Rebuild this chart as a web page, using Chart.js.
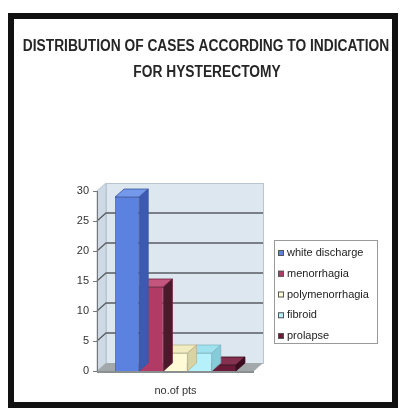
<!DOCTYPE html>
<html>
<head>
<meta charset="utf-8">
<script src="https://cdn.jsdelivr.net/npm/chart.js@4"></script>
<style>
  html, body { margin: 0; padding: 0; background: #fff; }
  #wrap { position: absolute; left: 0; top: 0; width: 400px; height: 409px; }
</style>
</head>
<body>
<div id="wrap"><canvas id="c" width="400" height="409"></canvas></div>
<script>
// Chart content
const titleLines = ['DISTRIBUTION OF CASES ACCORDING TO INDICATION', 'FOR HYSTERECTOMY'];
const categories = ['no.of pts'];
const seriesNames = ['white discharge', 'menorrhagia', 'polymenorrhagia', 'fibroid', 'prolapse'];
const seriesValues = [29, 14, 3, 3, 1];
const yTicks = [0, 5, 10, 15, 20, 25, 30];

// Shading for the three visible faces of each 3D bar
const frontColors = ['#5a82de', '#b03c66', '#fffbd6', '#b6f1fb', '#6a1a38'];
const topColors   = ['#7499ea', '#c4557c', '#f1edc0', '#9fe2ee', '#84304f'];
const sideColors  = ['#3c5bb0', '#4a1a2a', '#d8d3a4', '#86cbd8', '#3e0c20'];
const edgeColors  = ['#3a55a0', '#6e1f3c', '#b8b48a', '#7fb8c4', '#3a0a1c'];

const DX = 9, DY = -8;   // depth offset of the 3D box

// condensed bold heading: draw with a horizontal squeeze
function narrowText(ctx, text, cx, cy, squeeze) {
  ctx.save();
  ctx.translate(cx, cy);
  ctx.scale(squeeze, 1);
  ctx.fillText(text, 0, 0);
  ctx.restore();
}

const decor = {
  id: 'decor',
  beforeDraw(chart) {
    const ctx = chart.ctx;
    ctx.save();
    ctx.fillStyle = '#fff';
    ctx.fillRect(0, 0, chart.width, chart.height);
    // outer frame
    ctx.strokeStyle = '#111';
    ctx.lineWidth = 6;
    ctx.strokeRect(11, 16, 384, 389);
    // title
    ctx.fillStyle = '#262626';
    ctx.font = 'bold 16px "Liberation Sans", Arial, sans-serif';
    ctx.textAlign = 'center';
    ctx.textBaseline = 'middle';
    narrowText(ctx, titleLines[0], 206, 47, 0.86);
    narrowText(ctx, titleLines[1], 207, 73, 0.86);
    ctx.restore();
  },
  beforeDatasetsDraw(chart) {
    const ctx = chart.ctx;
    const a = chart.chartArea;
    const y = chart.scales.y;
    ctx.save();
    // side wall
    ctx.fillStyle = '#cddae6';
    ctx.beginPath();
    ctx.moveTo(a.left, a.top);
    ctx.lineTo(a.left + DX, a.top + DY);
    ctx.lineTo(a.left + DX, a.bottom + DY);
    ctx.lineTo(a.left, a.bottom);
    ctx.closePath();
    ctx.fill();
    ctx.strokeStyle = '#b9c5cf';
    ctx.lineWidth = 1;
    ctx.stroke();
    // back wall
    ctx.fillStyle = '#dde7f0';
    ctx.fillRect(a.left + DX, a.top + DY, a.right - a.left, a.bottom - a.top);
    ctx.strokeRect(a.left + DX + 0.5, a.top + DY + 0.5, a.right - a.left, a.bottom - a.top);
    // gridlines on walls
    ctx.strokeStyle = '#5a5e62';
    ctx.lineWidth = 1.3;
    yTicks.forEach(v => {
      if (v === 0 || v === 30) return;
      const py = y.getPixelForValue(v);
      ctx.beginPath();
      ctx.moveTo(a.left, py);
      ctx.lineTo(a.left + DX, py + DY);
      ctx.lineTo(a.right + DX, py + DY);
      ctx.stroke();
    });
    // floor
    ctx.fillStyle = '#a3a8aa';
    ctx.beginPath();
    ctx.moveTo(a.left, a.bottom);
    ctx.lineTo(a.left + DX, a.bottom + DY);
    ctx.lineTo(a.right + DX, a.bottom + DY);
    ctx.lineTo(a.right, a.bottom);
    ctx.closePath();
    ctx.fill();
    ctx.fillStyle = '#8a8f92';
    ctx.fillRect(a.left, a.bottom, a.right - a.left, 2);
    // front axis line and tick marks
    ctx.strokeStyle = '#777';
    ctx.lineWidth = 1;
    ctx.beginPath();
    ctx.moveTo(a.left + 0.5, a.top);
    ctx.lineTo(a.left + 0.5, a.bottom);
    yTicks.forEach(v => {
      const py = Math.round(y.getPixelForValue(v)) + 0.5;
      ctx.moveTo(a.left - 4, py);
      ctx.lineTo(a.left, py);
    });
    ctx.stroke();
    ctx.restore();
  },
  afterDatasetDraw(chart, args) {
    const ctx = chart.ctx;
    const i = args.index;
    const meta = args.meta;
    ctx.save();
    meta.data.forEach(bar => {
      const p = bar.getProps(['x', 'y', 'base', 'width'], true);
      const l = p.x - p.width / 2, r = p.x + p.width / 2;
      ctx.lineWidth = 0.8;
      ctx.strokeStyle = edgeColors[i];
      // top face
      ctx.fillStyle = topColors[i];
      ctx.beginPath();
      ctx.moveTo(l, p.y);
      ctx.lineTo(l + DX, p.y + DY);
      ctx.lineTo(r + DX, p.y + DY);
      ctx.lineTo(r, p.y);
      ctx.closePath();
      ctx.fill();
      ctx.stroke();
      // right side face
      ctx.fillStyle = sideColors[i];
      ctx.beginPath();
      ctx.moveTo(r, p.y);
      ctx.lineTo(r + DX, p.y + DY);
      ctx.lineTo(r + DX, p.base + DY);
      ctx.lineTo(r, p.base);
      ctx.closePath();
      ctx.fill();
      ctx.stroke();
    });
    ctx.restore();
  },
  afterDraw(chart) {
    const ctx = chart.ctx;
    ctx.save();
    // legend
    ctx.strokeStyle = '#9a9a9a';
    ctx.lineWidth = 1;
    ctx.strokeRect(274.5, 240.5, 103, 103);
    ctx.font = '11px "Liberation Sans", Arial, sans-serif';
    ctx.textAlign = 'left';
    ctx.textBaseline = 'middle';
    seriesNames.forEach((name, k) => {
      const cy = 253 + k * 20.75;
      ctx.fillStyle = frontColors[k];
      ctx.fillRect(278, cy - 3, 6, 6);
      ctx.strokeStyle = '#555';
      ctx.strokeRect(278.5, cy - 2.5, 5, 5);
      ctx.fillStyle = '#222';
      ctx.fillText(name, 287, cy);
    });
    ctx.restore();
  }
};

new Chart(document.getElementById('c'), {
  type: 'bar',
  data: {
    labels: categories,
    datasets: seriesNames.map((name, k) => ({
      label: name,
      data: [seriesValues[k]],
      backgroundColor: frontColors[k],
      borderColor: edgeColors[k],
      borderWidth: 0.8,
      barPercentage: 1,
      categoryPercentage: 0.77
    }))
  },
  options: {
    responsive: false,
    animation: false,
    layout: { padding: { left: 0, top: 191, right: 146, bottom: 0 } },
    plugins: {
      legend: { display: false },
      title: { display: false },
      tooltip: { enabled: false }
    },
    scales: {
      x: {
        grid: { display: false },
        border: { display: false },
        ticks: { color: '#333', font: { size: 11, family: '"Liberation Sans", Arial, sans-serif' }, padding: 5 },
        afterFit(s) { s.height = 38; }
      },
      y: {
        min: 0,
        max: 30,
        grid: { display: false },
        border: { display: false },
        ticks: {
          stepSize: 5,
          color: '#333',
          padding: 0,
          font: { size: 11, family: '"Liberation Sans", Arial, sans-serif' }
        },
        afterFit(s) { s.width = 97; }
      }
    }
  },
  plugins: [decor]
});
</script>
</body>
</html>
